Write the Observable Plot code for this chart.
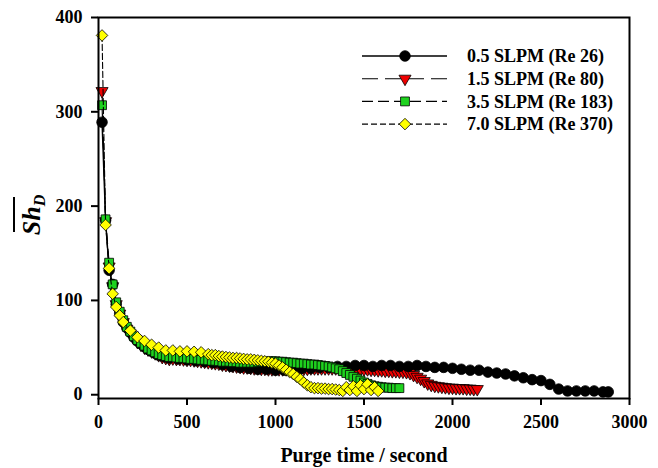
<!DOCTYPE html>
<html>
<head>
<meta charset="utf-8">
<script src="https://cdn.jsdelivr.net/npm/d3@7"></script>
<script src="https://cdn.jsdelivr.net/npm/@observablehq/plot@0.6"></script>
<style>
  html, body { margin: 0; padding: 0; background: #fff; }
  #chart { width: 658px; height: 468px; }
</style>
</head>
<body>
<div id="chart"></div>
<script>
// ---- Data ----
const seriesNames = ["0.5 SLPM (Re 26)", "1.5 SLPM (Re 80)", "3.5 SLPM (Re 183)", "7.0 SLPM (Re 370)"];

// 0.5 SLPM (Re 26) – black circles
const blackTime = [20,40,60,80,100,120,140,160,180,200,220,240,260,280,300,320,340,360,380,400,
  450,500,550,600,650,700,750,800,850,900,950,1000,1050,1100,1150,1200,1250,1300,1350,1400,1450,1500,
  1550,1600,1650,1700,1750,1800,1850,1900,1950,2000,2050,2100,2150,2200,2250,2300,2350,2400,2450,2500,
  2550,2600,2650,2700,2750,2800,2850,2880];
const blackSh = [289,185,132,117,96,86,77,71,66,61,57,54,51,48,46,44,42,41,40,39,
  38,37,36,35,34,32,30,29,28,27,27,26,26,27,28,28,29,29,30,30,31,31,
  30,31,31,30,30,31,30,29,29,28,27,26,26,24,23,22,20,18,16,15,
  11,6,4,4,4,4,3,3];

// 1.5 SLPM (Re 80) – red triangles
const redTime = [20,40,60,80,100,120,140,160,180,200,220,240,260,280,300,320,340,360,380,400,
  420,440,460,480,500,520,540,560,580,600,620,640,660,680,700,720,740,760,780,800,
  820,840,860,880,900,920,940,960,980,1000,1020,1040,1060,1080,1100,1120,1140,1160,1180,1200,
  1220,1240,1260,1280,1300,1320,1340,1360,1380,1400,1420,1440,1460,1480,1500,1520,1540,1560,1580,1600,
  1620,1640,1660,1680,1700,1720,1740,1760,1780,1800,1820,1840,1860,1880,1900,1920,1940,1960,1980,2000,
  2020,2040,2060,2080,2100,2120,2140];
const redSh = [322,184,136,115,96,86,77,70,65,60,56,53,50,48,46,44,42,40,39,38,
  38.5,38,38,37.5,37,37,36.5,36,35.5,35,34.5,34,33.5,33,32,31.5,31,30.5,30,29.5,
  29,29,28.5,28,28,27.5,27.5,27,27,27,27,27,27,27,27.5,27.5,27.5,27.5,27.5,28,
  28,28,28,28,28,28,28,28,28,28,27.5,27.5,27.5,27,27,27,26.5,26.5,26,26,
  25.5,25.5,25,25,24.5,24.5,24,23,21,19,17,14.5,12,10.5,9.5,9,8.5,8,7.5,7.5,
  7,7,7,6.5,6.5,6,6];

// 3.5 SLPM (Re 183) – green squares
const greenTime = [20,40,60,80,100,120,140,160,180,200,220,240,260,280,300,320,340,360,380,400,
  420,440,460,480,500,520,540,560,580,600,620,640,660,680,700,720,740,760,780,800,
  820,840,860,880,900,920,940,960,980,1000,1020,1040,1060,1080,1100,1120,1140,1160,1180,1200,
  1220,1240,1260,1280,1300,1320,1340,1360,1380,1400,1420,1440,1460,1480,1500,1520,1540,1560,1580,1600,
  1620,1640,1660,1680,1700];
const greenSh = [307,186,140,117,98,88,79,72,67,62,58,55,52,49,47,45,43,42,41,40,
  40,39.5,39,39,38.5,38,38,37.5,37,37,36.5,36,36,35.5,35,35,35,34.5,34.5,34,
  34,34,34,34,34.5,35,35,35.5,35.5,35.5,35,35,34.5,34,34,33.5,33,33,32.5,32,
  32,31.5,31,30.5,30,29,28,27,25,23,21,19,17,15,13,11.5,10,9,8.5,8,
  7.5,7.5,7,7,7];

// 7.0 SLPM (Re 370) – yellow diamonds
const yellowTime = [20,40,60,80,100,120,140,180,220,260,300,340,380,420,460,500,540,580,620,
  640,660,680,700,720,740,760,780,800,820,840,860,880,900,920,940,960,980,1000,
  1020,1040,1060,1080,1100,1120,1140,1160,1180,1200,1220,1240,1260,1280,1300,1320,1340,1360,1380,
  1400,1420,1440,1460,1480,1500,1520,1540,1560,1580];
const yellowSh = [381,180,134,107,93,84,77,68,61,57,53,50,47,47,46,46,45.5,45,43,
  42,42,41,40.5,40,39.5,39,39,38.5,38,37.5,37.5,37,36.5,36,35.5,35,34,33,
  31,29,26.5,24,22,19,16.5,13,10,8,7,7,6.5,6.5,6,6,5.5,5,4,
  8,5,9,4,10,6,11,5,8,4];

const xTicks = [0, 500, 1000, 1500, 2000, 2500, 3000];
const yTicks = [0, 100, 200, 300, 400];

// ---- Styling per series ----
const styles = [
  {symbol: "circle",   fill: "#000000", r: 5.3, rotate: 0,   dash: null,   lw: 1.4},
  {symbol: "triangle", fill: "#ee0000", r: 4.5, rotate: 180, dash: "16,7", lw: 1.1},
  {symbol: "square",   fill: "#1ed21e", r: 5.0, rotate: 0,   dash: "11,5", lw: 1.1},
  {symbol: "diamond2", fill: "#ffff00", r: 5.2, rotate: 0,   dash: "6,3",  lw: 1.1}
];
// drawing order: red under black, then green and yellow on top
const drawOrder = [1, 0, 2, 3];

const times = [blackTime, redTime, greenTime, yellowTime];
const values = [blackSh, redSh, greenSh, yellowSh];
const tables = times.map((ts, i) => ts.map((t, j) => ({t, v: values[i][j], s: seriesNames[i]})));

const font = "'Liberation Serif','Times New Roman',Times,serif";

const marks = [];
drawOrder.forEach(i => {
  const rows = tables[i];
  const st = styles[i];
  marks.push(Plot.line(rows, {x: "t", y: "v", stroke: "#000", strokeWidth: st.lw, strokeDasharray: st.dash || undefined}));
  marks.push(Plot.dot(rows, {x: "t", y: "v", symbol: st.symbol, fill: st.fill, stroke: "#000", strokeWidth: 0.8, r: st.r, rotate: st.rotate}));
});

const chart = Plot.plot({
  width: 658,
  height: 468,
  marginLeft: 98,
  marginRight: 29,
  marginTop: 17,
  marginBottom: 70,
  style: {fontFamily: font, fontSize: "18px", fontWeight: "bold", background: "#fff", color: "#000"},
  x: {domain: [0, 3000]},
  y: {domain: [-4, 400]},
  marks: [
    ...marks,
    Plot.frame({stroke: "#000", strokeWidth: 2}),
    Plot.axisX({ticks: xTicks, tickSize: 7, tickPadding: 10, strokeWidth: 2, label: null, tickFormat: d => String(d), fontSize: 18, fontWeight: "bold"}),
    Plot.axisY({ticks: yTicks, tickSize: 7, tickPadding: 9, strokeWidth: 2, label: null, tickFormat: d => String(d), fontSize: 18, fontWeight: "bold"}),
    Plot.text(["Purge time / second"], {frameAnchor: "bottom", dy: 63, fontSize: 20, fontWeight: "bold", text: d => d})
  ]
});

document.getElementById("chart").appendChild(chart);

// ---- Legend and y-axis title drawn onto the same SVG ----
const svg = d3.select(chart);
const leg = svg.append("g").attr("font-family", font).attr("text-anchor", "start");
const legendRowsY = [56, 78.7, 101.4, 124.1];
styles.forEach((st, i) => {
  const yy = legendRowsY[i];
  leg.append("line").attr("x1", 362).attr("x2", 447).attr("y1", yy).attr("y2", yy)
    .attr("stroke", "#000").attr("stroke-width", st.lw)
    .attr("stroke-dasharray", st.dash || null);
  const symType = {circle: d3.symbolCircle, triangle: d3.symbolTriangle, square: d3.symbolSquare, diamond2: d3.symbolDiamond2}[st.symbol];
  leg.append("path").attr("d", d3.symbol(symType, Math.PI * st.r * st.r)())
    .attr("transform", `translate(405,${yy}) rotate(${st.rotate})`)
    .attr("fill", st.fill).attr("stroke", "#000").attr("stroke-width", 0.8);
  leg.append("text").attr("x", 467).attr("y", yy).attr("dy", "0.35em")
    .attr("text-anchor", "start")
    .attr("font-size", 18).attr("font-weight", "bold").attr("fill", "#000")
    .text(seriesNames[i]);
});

const yl = svg.append("g").attr("transform", "translate(40,215) rotate(-90)").attr("font-family", font);
const ylt = yl.append("text").attr("text-anchor", "middle").attr("font-weight", "bold").attr("font-style", "italic").attr("fill", "#000");
ylt.append("tspan").attr("font-size", 26).text("Sh");
ylt.append("tspan").attr("font-size", 16).attr("dy", 5).text("D");
yl.append("line").attr("x1", -17).attr("x2", 18).attr("y1", -26).attr("y2", -26).attr("stroke", "#000").attr("stroke-width", 2);
</script>
</body>
</html>
